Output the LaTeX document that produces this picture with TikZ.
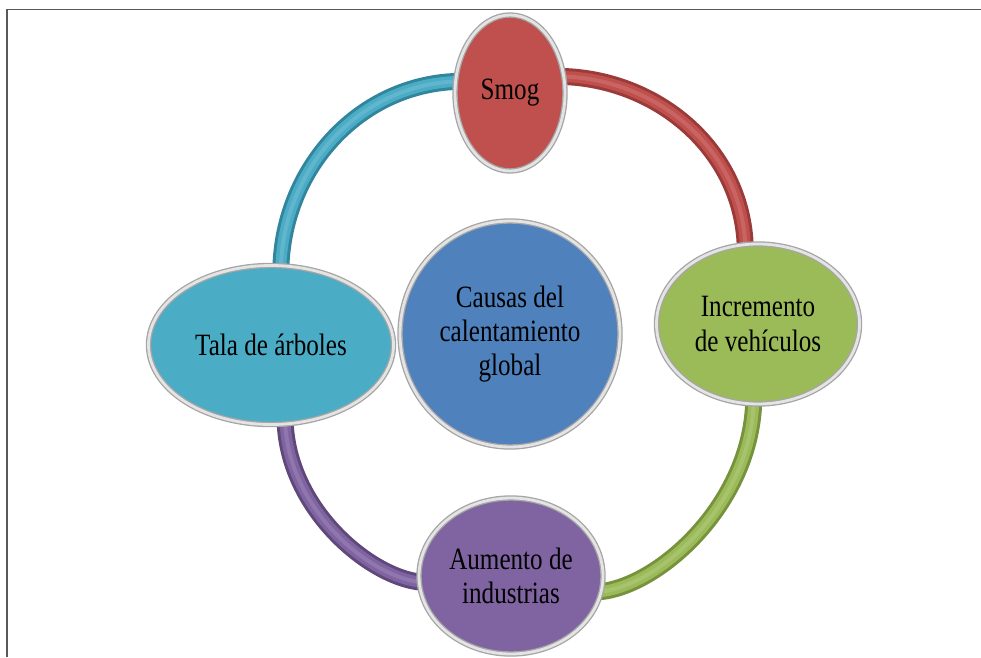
\documentclass[tikz,border=0pt]{standalone}
\usepackage{fontspec}
\setmainfont{Liberation Serif}[FakeStretch=0.81]
\usetikzlibrary{shapes.geometric,backgrounds}
\definecolor{smogc}{HTML}{C0504D}
\definecolor{smogd}{HTML}{9A3B39}
\definecolor{incrc}{HTML}{9BBB59}
\definecolor{incrd}{HTML}{76923C}
\definecolor{aumc}{HTML}{8064A2}
\definecolor{aumd}{HTML}{5F497A}
\definecolor{talac}{HTML}{4BACC6}
\definecolor{talad}{HTML}{31859C}
\definecolor{centc}{HTML}{4F81BD}
\definecolor{rimo}{HTML}{A5A5A5}
\definecolor{rimi}{HTML}{E4E4E4}
\definecolor{framec}{HTML}{595959}
\tikzset{
  bubble/.style={ellipse, inner sep=0pt, align=center, text=black,
    draw=rimo, line width=1.3pt, double=rimi, double distance=2.8pt,
    font=\fontsize{31}{34}\selectfont},
  tube/.style 2 args={line width=17pt, draw=#2,
    postaction={draw=#1, line width=11pt},
    postaction={draw=#1!88!white, line width=4pt}},
  framel/.style={draw=framec, line width=1.5pt}
}
\begin{document}
\begin{tikzpicture}[x=1pt,y=1pt]
\useasboundingbox (0,0) rectangle (981,657);
\draw[framel] (7,0) -- (7,647.5) -- (981,647.5);

\node[bubble, fill=smogc, minimum width=110pt, minimum height=156pt] (smog) at (510,564) {Smog};
\node[bubble, fill=incrc, minimum width=203pt, minimum height=160pt] (incr) at (758,333) {Incremento\\de vehículos};
\node[bubble, fill=aumc, minimum width=184pt, minimum height=156pt] (aum) at (511,81) {Aumento de\\industrias};
\node[bubble, fill=talac, minimum width=245pt, minimum height=159pt] (tala) at (271,312) {Tala de árboles};
\node[bubble, fill=centc, minimum width=220pt, minimum height=226pt] (cent) at (510,323) {Causas del\\calentamiento\\global};

\begin{scope}[on background layer]
\draw[tube={talac}{talad}] ([xshift=8pt]smog.168) to[out=180,in=90] ([yshift=-8pt]tala.83);
\draw[tube={smogc}{smogd}] ([xshift=-8pt]smog.17) to[out=0,in=90] ([yshift=-8pt]incr.99);
\draw[tube={incrc}{incrd}] ([yshift=8pt]incr.-93) to[out=-90,in=0,out looseness=1.1,in looseness=0.6] ([xshift=-8pt]aum.-10);
\draw[tube={aumc}{aumd}] ([yshift=8pt]tala.-80) to[out=-90,in=180,out looseness=1.1,in looseness=0.6] ([xshift=8pt]aum.184);
\end{scope}
\end{tikzpicture}
\end{document}
